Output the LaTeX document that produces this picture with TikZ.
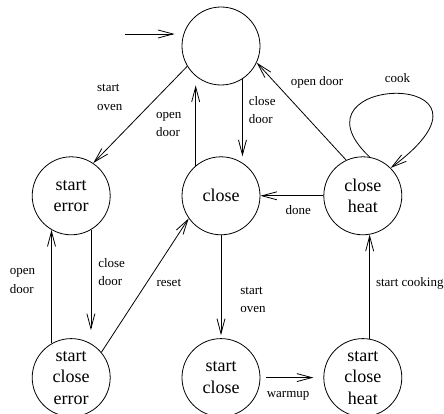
\documentclass[tikz,border=0pt]{standalone}
\usepackage{fontspec}
\setmainfont{Liberation Serif}
\usetikzlibrary{arrows.meta}
\usetikzlibrary{positioning}
\tikzset{auto, >={Straight Barb[length=15pt,width=8pt]}, node distance=1cm, align=left, inner sep=3pt, font=\fontsize{13}{18.5}\selectfont}
\tikzstyle{state} = [draw, circle, minimum size=78pt, inner sep=0pt, align=center, font=\fontsize{18}{21.5}\selectfont]
\tikzstyle{input} = [coordinate]

\begin{document}
\begin{tikzpicture}[x=1pt, y=1pt, line width=0.8pt]
        \useasboundingbox (0,0) rectangle (444,-414);
        \node [state] (init) at (221,-46) {};
        \node [state, below=71pt of init] (close) {close};
        \node [state, left=71pt of close] (error) {start\\error};
        \node [state, right=63pt of close] (heat) {close\\heat};
        \node [state, below=103pt of error] (sce) {start\\close\\error};
        \node [state, below=103pt of close] (sc) {start\\close};
        \node [state, below=103pt of heat] (sch) {start\\close\\heat};
        \node [input, left=57pt of init, yshift=12pt] (start) {};

        \draw [->, shorten >=7pt] (start) -- (start -| init.west);
        \draw [->] (init.211) -- node [swap, pos=0.43, xshift=-21pt, yshift=-6pt] {start\\oven} (error.56);
        \draw [->] (close.130) -- node [pos=0.51, xshift=-11pt] {open\\door} (close.130 |- init.south);
        \draw [->] (init.303) -- node [pos=0.4, xshift=3pt] {close\\door} (init.303 |- close.north);
        \draw [->] (heat.115) -- node [swap, pos=0.7, xshift=4pt] {open door} (init.335);
        \draw [->] (heat.80) .. controls ([shift={(-89,84)}]heat.80) and ([shift={(135,100)}]heat.45) .. node [pos=0.5, yshift=7pt] {cook} (heat.45);
        \draw [->] (heat) -- node [pos=0.4, yshift=-6pt] {done} (close);
        \draw [->, shorten >=8pt] (error.300) -- node [pos=0.39, xshift=4pt] {close\\door} (error.300 |- sce.north);
        \draw [->] (sce.120) -- node [pos=0.55, xshift=-13pt] {open\\door} (error.240);
        \draw [->] (sce.40) -- node [swap, pos=0.57, xshift=2pt] {reset} (close.215);
        \draw [->, shorten >=3pt] (close) -- node [pos=0.63, xshift=16pt] {start\\oven} (sc);
        \draw [->, shorten <=6pt, shorten >=10pt] (sc) -- node [swap, pos=0.44, yshift=-10pt] {warmup} (sch);
        \draw [->] (sch.80) -- node [swap, pos=0.53, xshift=3pt] {start cooking} (heat.280);
\end{tikzpicture}
\end{document}
